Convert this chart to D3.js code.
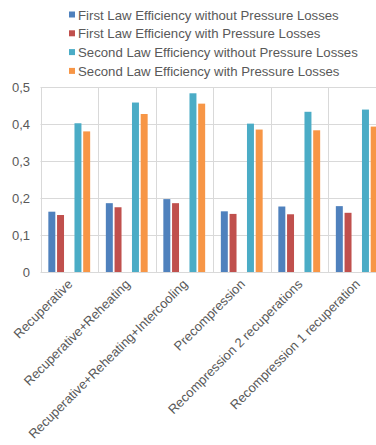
<!DOCTYPE html>
<html><head><meta charset="utf-8">
<script src="https://cdn.jsdelivr.net/npm/d3@7"></script>
<style>body{margin:0;background:#fff;overflow:hidden}svg{display:block;font-family:"Liberation Sans",Arial,sans-serif}</style>
</head><body><svg id="c" width="376" height="445"></svg>
<script>
const categories = ["Recuperative","Recuperative+Reheating","Recuperative+Reheating+Intercooling","Precompression","Recompression 2 recuperations","Recompression 1 recuperation"];
const seriesNames = ["First Law Efficiency without Pressure Losses","First Law Efficiency with Pressure Losses","Second Law Efficiency without Pressure Losses","Second Law Efficiency with Pressure Losses"];
const firstNoLoss = [0.163,0.186,0.197,0.164,0.177,0.178];
const firstLoss = [0.154,0.175,0.186,0.157,0.156,0.160];
const secondNoLoss = [0.402,0.458,0.483,0.401,0.433,0.439];
const secondLoss = [0.380,0.427,0.455,0.385,0.383,0.393];
const colors = ["#4F81BD","#C0504D","#4BACC6","#F79646"];
const yTicks = [0,0.1,0.2,0.3,0.4,0.5];
const slots = ["s0","s1","gap","s2","s3"];
const seriesSlot = ["s0","s1","s2","s3"];
const seriesValues = [firstNoLoss, firstLoss, secondNoLoss, secondLoss];

const svg = d3.select("#c");
const x = d3.scaleBand().domain(categories).range([40.5,385.5]).padding(0);
const xi = d3.scaleBand().domain(slots).range([0,x.bandwidth()]).paddingInner(0.2).paddingOuter(0.9);
const y = d3.scaleLinear().domain([0,0.5]).range([272,87]);
const txt = "#595959", grid = "#d9d9d9";

svg.append("g").selectAll("line").data(yTicks).join("line")
  .attr("x1",40.5).attr("x2",385.5).attr("y1",d=>Math.round(y(d))+0.5).attr("y2",d=>Math.round(y(d))+0.5)
  .attr("stroke",grid).attr("stroke-width",1);
svg.append("g").selectAll("line").data(categories.concat(["end"])).join("line")
  .attr("x1",(d,i)=>Math.round(40.5+i*x.step())+0.5).attr("x2",(d,i)=>Math.round(40.5+i*x.step())+0.5)
  .attr("y1",y(0.5)).attr("y2",y(0)+1)
  .attr("stroke",grid).attr("stroke-width",1);

seriesValues.forEach((vals,s)=>{
  svg.append("g").selectAll("rect").data(vals).join("rect")
    .attr("x",(d,i)=>x(categories[i])+xi(seriesSlot[s]))
    .attr("width",xi.bandwidth())
    .attr("y",d=>y(d)).attr("height",d=>y(0)-y(d))
    .attr("fill",colors[s]);
});

const fmt = d=> d===0 ? "0" : d3.format(".1f")(d).replace(".",",");
svg.append("g").selectAll("text").data(yTicks).join("text")
  .attr("x",30).attr("y",d=>y(d)).attr("dy","0.35em").attr("text-anchor","end")
  .attr("font-size",13).attr("fill",txt).text(fmt);

svg.append("g").selectAll("text").data(categories).join("text")
  .attr("transform",d=>`translate(${x(d)+x.bandwidth()/2+4},${285}) rotate(-45)`)
  .attr("text-anchor","end").attr("font-size",13).attr("fill",txt).text(d=>d);

const lg = svg.append("g");
seriesNames.forEach((n,i)=>{
  const yy = 15 + i*18.8;
  lg.append("rect").attr("x",69).attr("y",yy-3.5).attr("width",6).attr("height",6).attr("fill",colors[i]);
  lg.append("text").attr("x",78).attr("y",yy).attr("dy","0.35em").attr("font-size",13.2).attr("fill",txt).text(n);
});
</script></body></html>
